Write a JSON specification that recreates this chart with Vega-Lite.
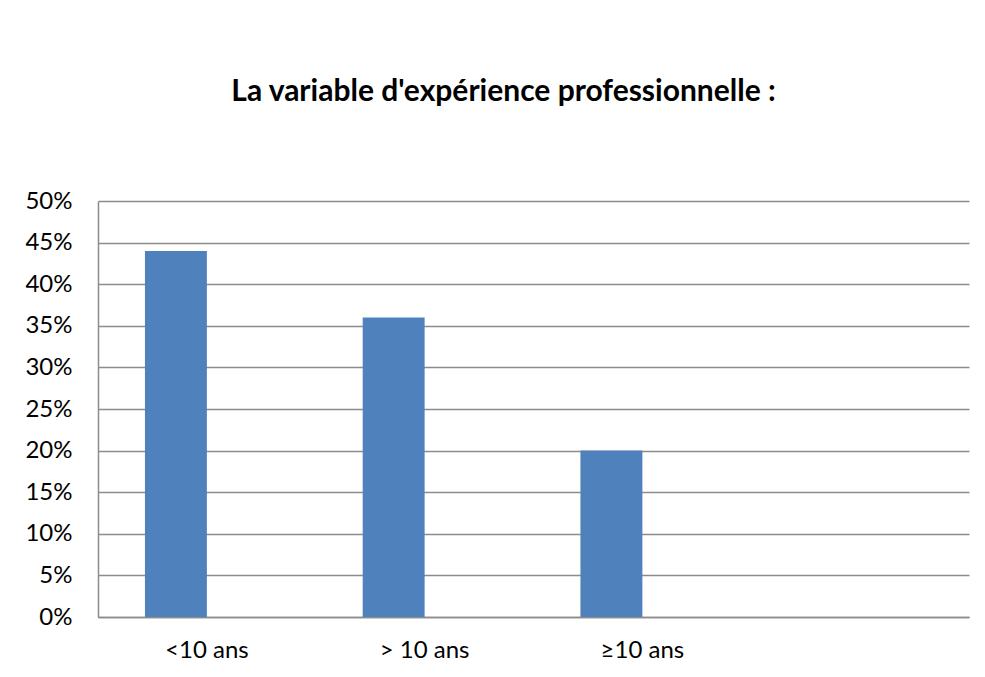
{
  "$schema": "https://vega.github.io/schema/vega-lite/v6.json",
  "width": 871,
  "height": 416,
  "autosize": "none",
  "padding": {"left": 98, "top": 201, "right": 16, "bottom": 60},
  "background": "white",
  "title": {
    "text": "La variable d'expérience professionnelle :",
    "font": "Lato",
    "fontSize": 30,
    "fontWeight": "bold",
    "color": "#000000",
    "anchor": "middle",
    "dx": -30,
    "offset": 82
  },
  "data": {
    "values": [
      {"categorie": "<10 ans", "serie": "s1", "pourcentage": 0.44},
      {"categorie": "> 10 ans", "serie": "s1", "pourcentage": 0.36},
      {"categorie": "≥10 ans", "serie": "s1", "pourcentage": 0.20}
    ]
  },
  "mark": {"type": "bar", "color": "#4F81BD"},
  "encoding": {
    "x": {
      "field": "categorie",
      "type": "nominal",
      "sort": null,
      "scale": {"domain": ["<10 ans", "> 10 ans", "≥10 ans", " "], "paddingInner": 0, "paddingOuter": 0},
      "axis": {
        "title": null,
        "labelAngle": 0,
        "labelFont": "Lato",
        "labelFontSize": 24,
        "labelColor": "#000000",
        "labelPadding": 21,
        "ticks": false,
        "domainColor": "#8c8c8c",
        "domainWidth": 1.5,
        "grid": false
      }
    },
    "xOffset": {
      "field": "serie",
      "type": "nominal",
      "scale": {"domain": ["s1", "s2"], "paddingInner": 0, "paddingOuter": 0.758}
    },
    "y": {
      "field": "pourcentage",
      "type": "quantitative",
      "scale": {"domain": [0, 0.5], "nice": false},
      "axis": {
        "title": null,
        "format": ".0%",
        "values": [0, 0.05, 0.1, 0.15, 0.2, 0.25, 0.3, 0.35, 0.4, 0.45, 0.5],
        "labelFont": "Lato",
        "labelFontSize": 24,
        "labelColor": "#000000",
        "labelPadding": 26,
        "ticks": false,
        "domainColor": "#8c8c8c",
        "domainWidth": 1.5,
        "gridColor": "#8c8c8c",
        "gridWidth": 1.5,
        "gridOpacity": 1
      }
    }
  },
  "config": {"view": {"stroke": null}}
}
